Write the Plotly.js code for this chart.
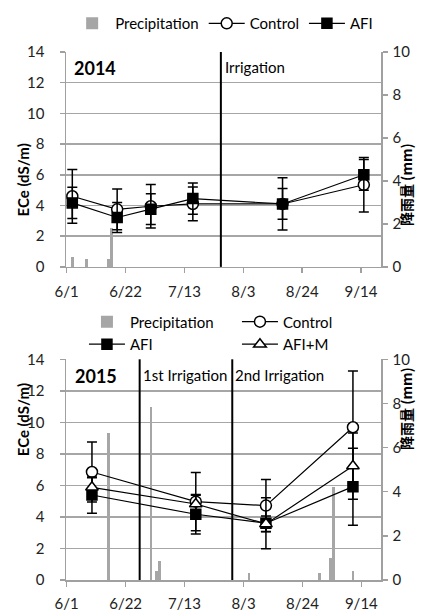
<!DOCTYPE html>
<html>
<head>
<meta charset="utf-8">
<script src="https://cdn.plot.ly/plotly-3.0.1.min.js"></script>
<style>html,body{margin:0;padding:0;background:#fff;} #chart{width:427px;height:610px;}</style>
</head>
<body>
<div id="chart"></div>
<script>
// ---------- data ----------
const tickLabels = ['6/1', '6/22', '7/13', '8/3', '8/24', '9/14'];
const tickDates2014 = ['2014-06-01', '2014-06-22', '2014-07-13', '2014-08-03', '2014-08-24', '2014-09-14'];
const tickDates2015 = ['2015-06-01', '2015-06-22', '2015-07-13', '2015-08-03', '2015-08-24', '2015-09-14'];

const dates2014 = ['2014-06-03', '2014-06-19', '2014-07-01', '2014-07-16', '2014-08-17', '2014-09-15'];
const control2014 = [4.6, 3.75, 3.95, 4.1, 4.1, 5.35];
const control2014Err = [1.75, 1.33, 1.42, 1.1, 1.7, 1.78];
const afi2014 = [4.17, 3.22, 3.76, 4.45, 4.1, 6.0];
const afi2014Err = [1.02, 0.98, 1.0, 1.02, 1.0, 1.0];
const precipDates2014 = ['2014-06-03', '2014-06-08', '2014-06-16', '2014-06-17'];
const precip2014 = [0.47, 0.35, 0.35, 1.8];
const irrigation2014 = ['2014-07-26'];
const irrigationLabels2014 = ['Irrigation'];

const dates2015 = ['2015-06-10', '2015-07-17', '2015-08-11', '2015-09-11'];
const control2015 = [6.85, 4.97, 4.72, 9.69];
const control2015Err = [1.9, 1.85, 1.65, 3.57];
const afi2015 = [5.39, 4.17, 3.6, 5.92];
const afi2015Err = [1.15, 1.25, 1.62, 2.44];
const afim2015 = [5.88, 4.82, 3.56, 7.23];
const afim2015Err = [0.6, 0.55, 0.5, 2.1];
const precipDates2015 = ['2015-06-16', '2015-07-01', '2015-07-03', '2015-07-04', '2015-08-05', '2015-08-30', '2015-09-03', '2015-09-04', '2015-09-11'];
const precip2015 = [6.67, 7.85, 0.42, 0.85, 0.3, 0.3, 1.0, 4.23, 0.42];
const irrigation2015 = ['2015-06-27', '2015-07-30'];
const irrigationLabels2015 = ['1st Irrigation', '2nd Irrigation'];

// ---------- styles ----------
const FONT = 'Lato, "Open Sans", sans-serif';
const GRAY = '#a6a6a6';
const AXIS = '#a0a0a0';
const DAY = 86400000;

function errBar(arr) {
  return {type: 'data', array: arr, visible: true, color: '#000', thickness: 1.5, width: 5};
}
function lineTrace(name, x, y, err, symbol, fill, xa, ya, legend, size) {
  return {
    type: 'scatter', mode: 'lines+markers', name: name, x: x, y: y,
    xaxis: xa, yaxis: ya, legend: legend,
    line: {color: '#000', width: 1.2},
    marker: {symbol: symbol, size: size, color: fill, line: {color: '#000', width: 1.5}},
    error_y: errBar(err)
  };
}
function barTrace(x, y, xa, ya, legend) {
  return {
    type: 'bar', name: 'Precipitation', x: x, y: y, xaxis: xa, yaxis: ya, legend: legend,
    width: DAY * 0.95, marker: {color: GRAY, line: {width: 0}}
  };
}

const traces = [
  barTrace(precipDates2014, precip2014, 'x', 'y', 'legend'),
  lineTrace('Control', dates2014, control2014, control2014Err, 'circle', '#fff', 'x', 'y2', 'legend', 11),
  lineTrace('AFI', dates2014, afi2014, afi2014Err, 'square', '#000', 'x', 'y2', 'legend', 10),
  barTrace(precipDates2015, precip2015, 'x2', 'y3', 'legend2'),
  lineTrace('Control', dates2015, control2015, control2015Err, 'circle', '#fff', 'x2', 'y4', 'legend2', 11),
  lineTrace('AFI', dates2015, afi2015, afi2015Err, 'square', '#000', 'x2', 'y4', 'legend2', 10),
  lineTrace('AFI+M', dates2015, afim2015, afim2015Err, 'triangle-up', '#fff', 'x2', 'y4', 'legend2', 11)
];

const tickfont = {family: FONT, size: 15, color: '#222'};
function xAxis(anchor, ticks, range, standoff) {
  return {
    type: 'date', anchor: anchor, domain: [0, 1], range: range,
    tickmode: 'array', tickvals: ticks, ticktext: tickLabels,
    ticks: 'outside', ticklen: 5, tickwidth: 1.5, tickcolor: AXIS,
    showline: true, linecolor: AXIS, linewidth: 1.5, showgrid: false, zeroline: false,
    tickfont: tickfont, ticklabelstandoff: standoff, fixedrange: true
  };
}
function precipAxis(domain, anchor) {
  return {
    domain: domain, anchor: anchor, side: 'right', range: [0, 10], dtick: 2, tick0: 0,
    ticks: 'outside', ticklen: 5, tickwidth: 1.5, tickcolor: AXIS,
    showline: true, linecolor: AXIS, linewidth: 1.5, showgrid: false, zeroline: false,
    tickfont: tickfont, ticklabelstandoff: 2
  };
}
function eceAxis(over, anchor) {
  return {
    overlaying: over, anchor: anchor, side: 'left', range: [0, 14], dtick: 2, tick0: 0,
    ticks: 'outside', ticklen: 5, tickwidth: 1.5, tickcolor: AXIS,
    showline: true, linecolor: AXIS, linewidth: 1.5,
    showgrid: true, gridcolor: GRAY, gridwidth: 1.5, zeroline: false,
    tickfont: tickfont, ticklabelstandoff: 12
  };
}

const shapes = [];
irrigation2014.forEach(d => shapes.push({type: 'line', xref: 'x', yref: 'y domain', x0: d, x1: d, y0: 0, y1: 1, line: {color: '#000', width: 2}}));
irrigation2015.forEach(d => shapes.push({type: 'line', xref: 'x2', yref: 'y3 domain', x0: d, x1: d, y0: 0, y1: 1, line: {color: '#000', width: 2}}));

const annFont = {family: FONT, size: 15, color: '#000'};
const annotations = [
  {text: '<b>2014</b>', xref: 'x domain', yref: 'y domain', x: 0.02, y: 0.925, xanchor: 'left', yanchor: 'middle', showarrow: false, font: {family: FONT, size: 18, color: '#000'}},
  {text: '<b>2015</b>', xref: 'x2 domain', yref: 'y3 domain', x: 0.022, y: 0.925, xanchor: 'left', yanchor: 'middle', showarrow: false, font: {family: FONT, size: 18, color: '#000'}},
  {text: '<b>ECe (dS/m)</b>', xref: 'paper', yref: 'paper', x: -0.171, y: 0.83, textangle: -90, showarrow: false, font: {family: FONT, size: 15, color: '#000'}},
  {text: '<b>ECe (dS/m)</b>', xref: 'paper', yref: 'paper', x: -0.171, y: 0.23, textangle: -90, showarrow: false, font: {family: FONT, size: 15, color: '#000'}},
  {text: '<b>降雨量 (mm)</b>', xref: 'paper', yref: 'paper', x: 1.117, y: 0.832, textangle: -90, showarrow: false, font: {family: '"Noto Sans CJK JP", ' + FONT, size: 14, color: '#000'}},
  {text: '<b>降雨量 (mm)</b>', xref: 'paper', yref: 'paper', x: 1.117, y: 0.243, textangle: -90, showarrow: false, font: {family: '"Noto Sans CJK JP", ' + FONT, size: 14, color: '#000'}}
];
irrigation2014.forEach((d, i) => annotations.push({text: irrigationLabels2014[i], xref: 'x', yref: 'y domain', x: d, y: 0.93, xanchor: 'left', yanchor: 'middle', xshift: 2, showarrow: false, font: annFont}));
irrigation2015.forEach((d, i) => annotations.push({text: irrigationLabels2015[i], xref: 'x2', yref: 'y3 domain', x: d, y: 0.93, xanchor: 'left', yanchor: 'middle', xshift: 1, showarrow: false, font: annFont}));

const legendBase = {
  orientation: 'h', xanchor: 'left', yanchor: 'top', bgcolor: 'rgba(0,0,0,0)',
  font: {family: FONT, size: 15, color: '#000'}, tracegroupgap: 0, itemclick: false,
  itemwidth: 36
};

const layout = {
  width: 427, height: 610,
  margin: {l: 66, r: 46, t: 52, b: 30, autoexpand: false},
  paper_bgcolor: '#fff', plot_bgcolor: 'rgba(0,0,0,0)',
  font: {family: FONT, size: 15, color: '#000'},
  bargap: 0,
  showlegend: true,
  legend: Object.assign({}, legendBase, {x: 0.01, y: 1.085}),
  legend2: Object.assign({}, legendBase, {x: 0.057, y: 0.52, entrywidth: 102}),
  xaxis: xAxis('y', tickDates2014, ['2014-05-31 18:00', '2014-09-21 03:00'], 6),
  xaxis2: xAxis('y3', tickDates2015, ['2015-05-31 18:00', '2015-09-21 00:00'], 4),
  yaxis: precipAxis([0.593, 1], 'x'),
  yaxis2: eceAxis('y', 'x'),
  yaxis3: precipAxis([0, 0.418], 'x2'),
  yaxis4: eceAxis('y3', 'x2'),
  shapes: shapes,
  annotations: annotations
};

Plotly.newPlot('chart', traces, layout, {staticPlot: true, displayModeBar: false});
</script>
</body>
</html>
